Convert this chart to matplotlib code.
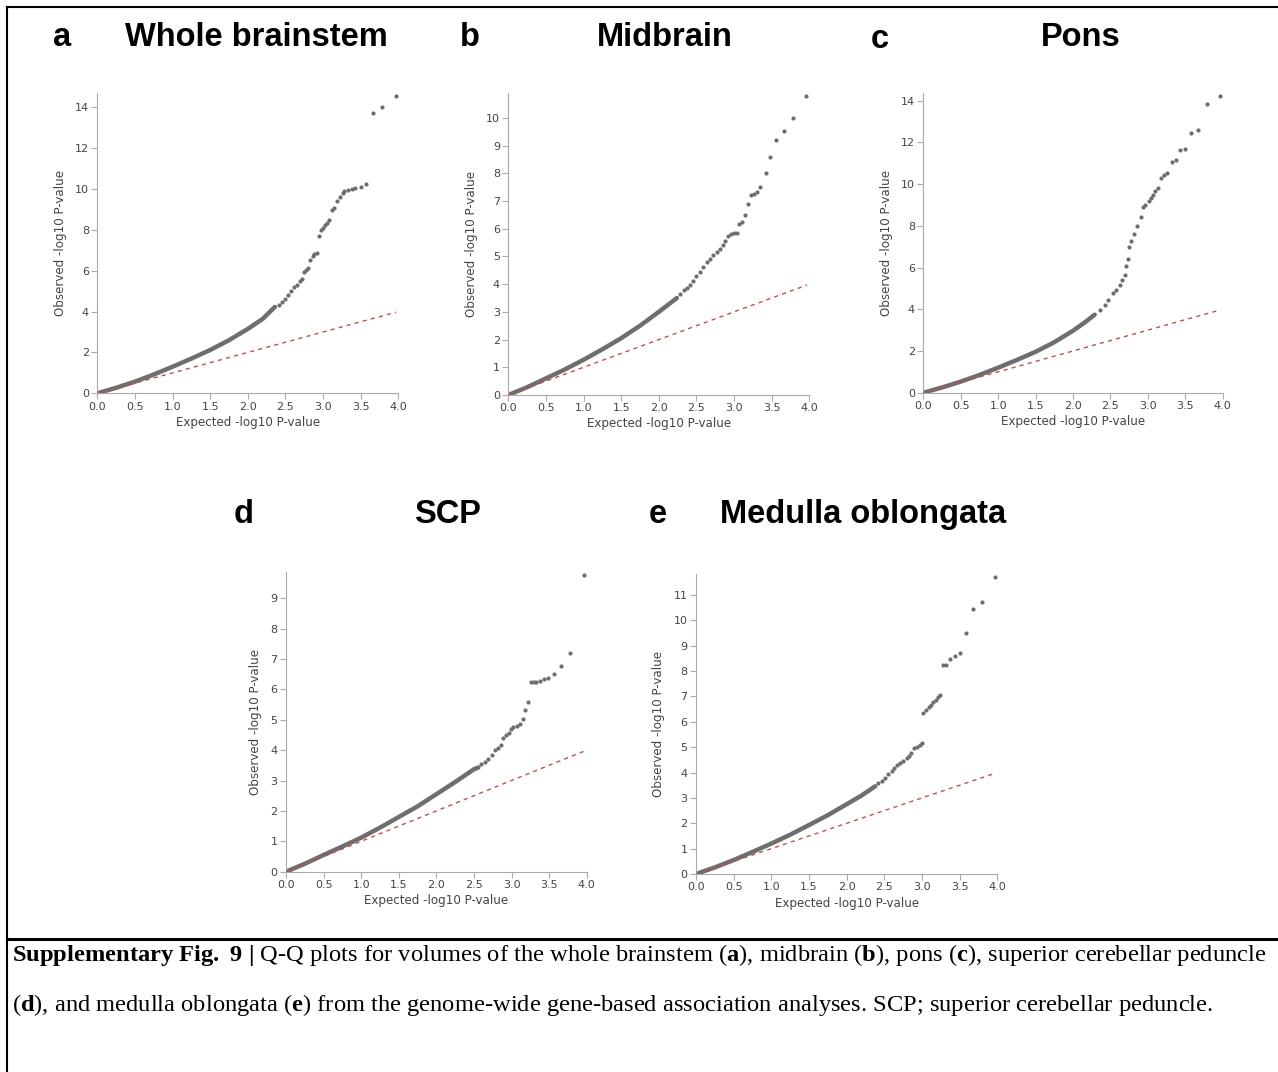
import matplotlib
matplotlib.use("Agg")
import matplotlib.pyplot as plt
from matplotlib.lines import Line2D

plt.rcParams['mathtext.fontset'] = 'custom'
plt.rcParams['mathtext.rm'] = 'Liberation Serif'
plt.rcParams['mathtext.bf'] = 'Liberation Serif:bold'

W, H = 1278, 1072
DOT = '#6e6e6e'
RED = '#c0504d'

# a - whole brainstem
a_dense_x = [0, 0.25, 0.5, 0.75, 1.0, 1.25, 1.5, 1.75, 2.0, 2.2, 2.36]
a_dense_y = [0, 0.27, 0.57, 0.92, 1.3, 1.7, 2.12, 2.6, 3.15, 3.65, 4.23]
a_tail_x = [2.41, 2.45, 2.49, 2.54, 2.58, 2.61, 2.65, 2.69, 2.72, 2.75, 2.78, 2.80,
            2.83, 2.86, 2.88, 2.92, 2.95, 2.97, 3.0, 3.03, 3.05, 3.08, 3.12, 3.14,
            3.19, 3.23, 3.26, 3.28, 3.33, 3.38, 3.43, 3.50, 3.57, 3.67, 3.79, 3.97]
a_tail_y = [4.34, 4.47, 4.62, 4.79, 5.0, 5.21, 5.32, 5.49, 5.60, 5.94, 6.05, 6.14,
            6.54, 6.72, 6.82, 6.89, 7.72, 7.97, 8.10, 8.23, 8.35, 8.46, 8.95, 9.05,
            9.41, 9.62, 9.82, 9.90, 9.95, 9.98, 10.03, 10.08, 10.24, 13.71, 14.0, 14.57]

# b - midbrain
b_dense_x = [0, 0.25, 0.5, 0.75, 1.0, 1.25, 1.5, 1.75, 2.0, 2.24]
b_dense_y = [0, 0.28, 0.6, 0.92, 1.27, 1.65, 2.05, 2.5, 3.0, 3.5]
b_tail_x = [2.28, 2.33, 2.37, 2.41, 2.46, 2.50, 2.55, 2.59, 2.64, 2.68, 2.72, 2.77,
            2.81, 2.85, 2.88, 2.92, 2.96, 3.0, 3.04, 3.07, 3.11, 3.14, 3.18, 3.22,
            3.27, 3.31, 3.35, 3.42, 3.48, 3.56, 3.66, 3.78, 3.95]
b_tail_y = [3.66, 3.80, 3.86, 3.98, 4.11, 4.29, 4.45, 4.61, 4.81, 4.90, 5.06, 5.15,
            5.28, 5.42, 5.57, 5.73, 5.81, 5.85, 5.86, 6.16, 6.24, 6.49, 6.89, 7.20,
            7.26, 7.33, 7.50, 8.03, 8.59, 9.19, 9.52, 10.01, 10.79]

# c - pons
c_dense_x = [0, 0.25, 0.5, 0.75, 1.0, 1.25, 1.5, 1.75, 2.0, 2.15, 2.29]
c_dense_y = [0, 0.25, 0.53, 0.85, 1.2, 1.57, 1.96, 2.42, 2.97, 3.35, 3.74]
c_tail_x = [2.36, 2.43, 2.47, 2.53, 2.58, 2.63, 2.66, 2.69, 2.71, 2.73, 2.75, 2.78,
            2.82, 2.86, 2.91, 2.94, 2.96, 3.01, 3.04, 3.07, 3.10, 3.14, 3.17, 3.21,
            3.25, 3.32, 3.37, 3.43, 3.49, 3.57, 3.67, 3.79, 3.96]
c_tail_y = [3.98, 4.22, 4.46, 4.78, 4.94, 5.15, 5.42, 5.66, 6.06, 6.41, 6.98, 7.26,
            7.6, 8.0, 8.42, 8.90, 9.01, 9.17, 9.33, 9.49, 9.65, 9.81, 10.29, 10.45,
            10.53, 11.06, 11.17, 11.62, 11.68, 12.45, 12.58, 13.82, 14.22]

# d - SCP
d_dense_x = [0, 0.25, 0.5, 0.75, 1.0, 1.25, 1.5, 1.75, 2.0, 2.25, 2.5, 2.56]
d_dense_y = [0, 0.26, 0.55, 0.83, 1.12, 1.45, 1.8, 2.15, 2.55, 2.95, 3.37, 3.43]
d_tail_x = [2.60, 2.65, 2.69, 2.74, 2.78, 2.82, 2.86, 2.89, 2.93, 2.96, 2.99, 3.02,
            3.07, 3.11, 3.15, 3.18, 3.22, 3.26, 3.30, 3.33, 3.38, 3.43, 3.48, 3.56,
            3.66, 3.78, 3.96]
d_tail_y = [3.53, 3.62, 3.70, 3.84, 4.0, 4.08, 4.17, 4.39, 4.49, 4.57, 4.71, 4.76,
            4.79, 4.85, 5.01, 5.31, 5.57, 6.23, 6.24, 6.25, 6.27, 6.34, 6.36, 6.51,
            6.76, 7.19, 9.77]

# e - medulla oblongata
e_dense_x = [0, 0.25, 0.5, 0.75, 1.0, 1.25, 1.5, 1.75, 2.0, 2.2, 2.38]
e_dense_y = [0, 0.26, 0.55, 0.87, 1.2, 1.55, 1.93, 2.32, 2.75, 3.1, 3.46]
e_tail_x = [2.42, 2.47, 2.51, 2.55, 2.60, 2.63, 2.67, 2.71, 2.75, 2.80, 2.83, 2.86,
            2.89, 2.93, 2.97, 3.0, 3.02, 3.05, 3.09, 3.12, 3.15, 3.18, 3.21, 3.24,
            3.28, 3.32, 3.37, 3.44, 3.50, 3.58, 3.68, 3.80, 3.97]
e_tail_y = [3.59, 3.68, 3.78, 3.94, 4.05, 4.18, 4.31, 4.37, 4.47, 4.57, 4.64, 4.77,
            4.97, 5.02, 5.10, 5.17, 6.34, 6.48, 6.57, 6.68, 6.78, 6.87, 6.96, 7.07,
            8.23, 8.23, 8.49, 8.58, 8.71, 9.49, 10.46, 10.74, 11.70]

caption1 = (r"$\mathbf{Supplementary}$ $\mathbf{Fig{.}}$ $\mathbf{9}$ $\mathbf{|}$ Q-Q plots for "
            r"volumes of the whole brainstem ($\mathbf{a}$), midbrain ($\mathbf{b}$), "
            r"pons ($\mathbf{c}$), superior cerebellar peduncle")
caption2 = (r"($\mathbf{d}$), and medulla oblongata ($\mathbf{e}$) from the genome-wide gene-based "
            r"association analyses. SCP; superior cerebellar peduncle.")

fig = plt.figure(figsize=(W / 100, H / 100), dpi=100)


def qq(left, origin, width, height, ymax, yticks, dx, dy, tx, ty):
    ax = fig.add_axes([left / W, 1 - origin / H, width / W, height / H])
    ax.plot(dx, dy, color=DOT, lw=3.2, solid_capstyle='round',
            solid_joinstyle='round', zorder=2)
    ax.scatter(tx, ty, s=9, color=DOT, linewidths=0, zorder=2, clip_on=False)
    ax.plot([0, 3.97], [0, 3.97], color=RED, lw=1, ls=(0, (3, 3)), zorder=3)
    ax.set_xlim(0, 4.0)
    ax.set_ylim(0, ymax)
    ax.set_xticks([0, 0.5, 1.0, 1.5, 2.0, 2.5, 3.0, 3.5, 4.0])
    ax.set_yticks(yticks)
    for s in ['top', 'right']:
        ax.spines[s].set_visible(False)
    for s in ['left', 'bottom']:
        ax.spines[s].set_color('#aaaaaa')
        ax.spines[s].set_linewidth(0.8)
    ax.tick_params(direction='out', length=4, width=0.8, color='#aaaaaa',
                   labelcolor='#444444', labelsize=8, pad=2)
    ax.set_xlabel('Expected -log10 P-value', fontsize=8.6, color='#444444', labelpad=3)
    ax.set_ylabel('Observed -log10 P-value', fontsize=8.6, color='#444444', labelpad=6)
    return ax


qq(97.3, 393.3, 301, 300.3, 14.7, range(0, 15, 2), a_dense_x, a_dense_y, a_tail_x, a_tail_y)
qq(508.3, 395.0, 301, 302.3, 10.91, range(0, 11), b_dense_x, b_dense_y, b_tail_x, b_tail_y)
qq(923.3, 392.7, 299.4, 300.0, 14.38, range(0, 15, 2), c_dense_x, c_dense_y, c_tail_x, c_tail_y)
qq(286.0, 871.7, 300.7, 300.0, 9.87, range(0, 10), d_dense_x, d_dense_y, d_tail_x, d_tail_y)
qq(696.0, 874.0, 301.3, 300.0, 11.83, range(0, 12), e_dense_x, e_dense_y, e_tail_x, e_tail_y)

# panel letters and titles
heads = [('a', 62, 38), ('Whole brainstem', 256, 38),
         ('b', 470, 38), ('Midbrain', 665, 38),
         ('c', 880, 40), ('Pons', 1081, 38),
         ('d', 244, 514), ('SCP', 447, 514),
         ('e', 658, 514), ('Medulla oblongata', 863, 514)]
for txt, x, y in heads:
    fig.text(x / W, 1 - y / H, txt, ha='center', va='center', fontsize=23.5,
             fontweight='bold', family='Liberation Sans')

# frame lines
fig.add_artist(Line2D([7 / W, 1], [1 - 7 / H, 1 - 7 / H], color='black', lw=1.5))
fig.add_artist(Line2D([7 / W, 7 / W], [0, 1 - 7 / H], color='black', lw=1.5))
fig.add_artist(Line2D([7 / W, 1], [1 - 939 / H, 1 - 939 / H], color='black', lw=2.2))

# caption, first line sized to span the box
t1 = fig.text(12 / W, 1 - 955 / H, caption1, fontsize=15, va='center', family='Liberation Serif')
t2 = fig.text(12 / W, 1 - 1005 / H, caption2, fontsize=15, va='center', family='Liberation Serif')
fig.canvas.draw()
fs = 15 * 1256 / t1.get_window_extent().width
t1.set_fontsize(fs)
t2.set_fontsize(fs)

fig.savefig('out.png', dpi=100)
